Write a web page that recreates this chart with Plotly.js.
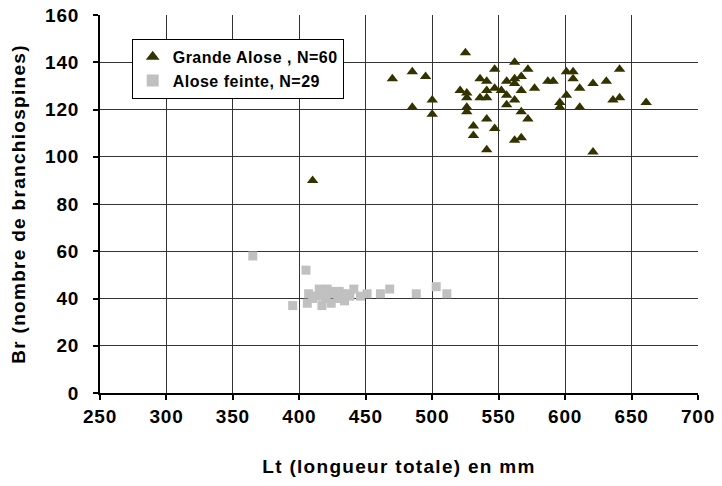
<!DOCTYPE html>
<html><head><meta charset="utf-8">
<script src="https://cdn.plot.ly/plotly-3.0.1.min.js"></script>
<style>
body{margin:0;background:#fff}#chart{width:722px;height:486px}
text.xtitle, text.ytitle{letter-spacing:1.3px}
text.legendtext{letter-spacing:0.5px}
.xtick text, .ytick text{letter-spacing:0.8px}
</style>
</head><body><div id="chart"></div>
<script>
var grandeX = [525,485,495,500,485,500,521,526,526,526,526,536,541,547,541,547,536,541,552,556,556,556,541,547,531,531,541,470,410,
  562,572,567,562,562,577,587,591,567,562,567,572,562,567,601,606,606,611,601,596,596,611,
  641,631,621,636,641,661,621];
var grandeY = [144,136,134,124,121,118,128,127,125,121,119,133,132,137,128,129,125,125,128,132,126,122,116,112,113,109,103,133,90,
  140,137,134,133,131,129,132,132,128,124,119,116,107,108,136,136,133,129,126,123,121,121,
  137,132,131,124,125,123,102];
var feinteX = [365,395,405,406,407,412,415,417,420,421,424,427,429,432,434,435,441,446,451,461,468,488,503,511,418,425,438,410,430];
var feinteY = [58,37,52,38,42,41,44,37,40,44,38,43,40,42,39,42,44,41,42,42,44,42,45,42,41,42,41,40,43];

var fam = '"Liberation Sans", Arial, sans-serif';
var traces = [
  {x:grandeX, y:grandeY, type:'scatter', mode:'markers', name:'<b>Grande Alose , N=60</b>',
   marker:{symbol:'triangle-up', size:10, color:'#333300', line:{width:0}}},
  {x:feinteX, y:feinteY, type:'scatter', mode:'markers', name:'<b>Alose feinte, N=29</b>',
   marker:{symbol:'square', size:9, color:'#c0c0c0', line:{width:0}}}
];
var layout = {
  width:722, height:486,
  margin:{l:100, r:24, t:15, b:93},
  paper_bgcolor:'#fff', plot_bgcolor:'#fff',
  font:{family:fam, size:16, color:'#000'},
  showlegend:true,
  legend:{x:0.053, y:0.937, xanchor:'left', yanchor:'top', bgcolor:'#fff', bordercolor:'#000', borderwidth:1,
          font:{family:fam, size:16, color:'#000'}, tracegroupgap:2, itemwidth:30, itemsizing:'constant'},
  xaxis:{range:[250,700], dtick:50, tick0:250, showgrid:true, gridcolor:'#333', gridwidth:1,
         zeroline:false, showline:true, linecolor:'#000', linewidth:2,
         ticks:'outside', ticklen:5, tickwidth:2, tickcolor:'#000', ticklabelstandoff:0,
         tickfont:{family:fam, size:19, weight:'bold'},
         title:{text:'<b>Lt (longueur totale) en mm</b>', font:{family:fam, size:19}, standoff:34}},
  yaxis:{range:[0,160], dtick:20, showgrid:true, gridcolor:'#333', gridwidth:1,
         zeroline:false, showline:true, linecolor:'#000', linewidth:2,
         ticks:'outside', ticklen:5, tickwidth:2, tickcolor:'#000', ticklabelstandoff:10,
         tickfont:{family:fam, size:19, weight:'bold'},
         title:{text:'<b>Br (nombre de branchiospines)</b>', font:{family:fam, size:19}, standoff:14}}
};
Plotly.newPlot('chart', traces, layout, {displayModeBar:false, staticPlot:true});
</script></body></html>
